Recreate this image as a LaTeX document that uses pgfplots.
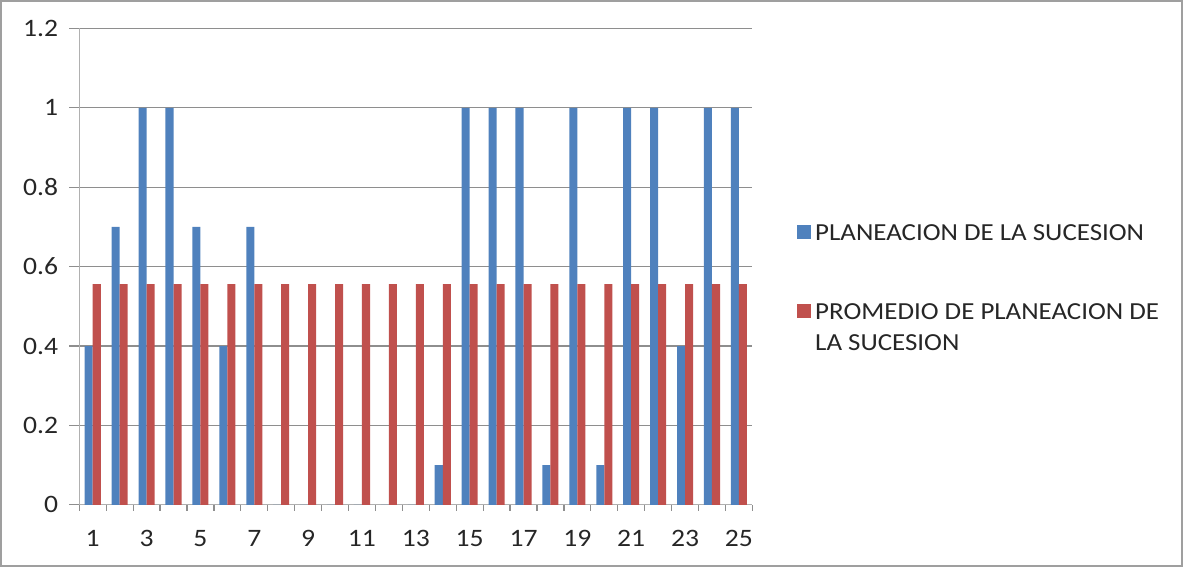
\documentclass[border=0pt]{standalone}
\usepackage{fontspec}
\setmainfont{Carlito}[FakeStretch=1.1]
\usepackage{pgfplots}
\usepackage{pgfplotstable}
\pgfplotsset{compat=1.18}
\definecolor{xlblue}{HTML}{4F81BD}
\definecolor{xlred}{HTML}{C0504D}
\definecolor{gridc}{HTML}{8E8E8E}
\definecolor{txt}{HTML}{262626}
\pgfplotstableread{
x plan prom
1 0.4 0.556
2 0.7 0.556
3 1.0 0.556
4 1.0 0.556
5 0.7 0.556
6 0.4 0.556
7 0.7 0.556
8 0.0 0.556
9 0.0 0.556
10 0.0 0.556
11 0.0 0.556
12 0.0 0.556
13 0.0 0.556
14 0.1 0.556
15 1.0 0.556
16 1.0 0.556
17 1.0 0.556
18 0.1 0.556
19 1.0 0.556
20 0.1 0.556
21 1.0 0.556
22 1.0 0.556
23 0.4 0.556
24 1.0 0.556
25 1.0 0.556
}\datatable
\begin{document}
\begin{tikzpicture}
\begin{axis}[
  scale only axis, width=335.5pt, height=237.5pt,
  xmin=0.5, xmax=25.5, ymin=0, ymax=1.2,
  clip=false,
  ybar=0pt, bar width=4pt,
  axis x line*=bottom, axis y line*=left,
  axis line style={gridc!70, -},
  xtick={1,3,...,25},
  minor xtick={0.5,1.5,...,25.5},
  ytick={0,0.2,0.4,0.6,0.8,1,1.2},
  yticklabels={0,0.2,0.4,0.6,0.8,1,1.2},
  tick align=outside,
  major tick length=5pt, minor tick length=3pt,
  every major x tick/.append style={draw=none},
  tick style={gridc, line width=0.6pt},
  ymajorgrids, grid style={gridc, line width=0.6pt},
  /pgf/number format/assume math mode=true,
  ticklabel style={font=\fontsize{12.5}{15}\selectfont, text=txt},
  yticklabel style={xshift=-2pt},
  xticklabel style={yshift=-4pt},
  legend style={draw=none, fill=none, at={(1.057,0.606)}, anchor=north west,
    font=\fontsize{12.2}{15.5}\selectfont, text=txt,
    cells={anchor=base west, align=left}, row sep=26pt},
]
\addplot[fill=xlblue, draw=none,
  legend image code/.code={\fill[xlblue] (0pt,0.5pt) rectangle (7pt,7.5pt);}]
  table[x=x, y=plan] {\datatable};
\addplot[fill=xlred, draw=none,
  legend image code/.code={\fill[xlred] (0pt,16pt) rectangle (7pt,23pt);}]
  table[x=x, y=prom] {\datatable};
\legend{PLANEACION DE LA SUCESION, {PROMEDIO DE PLANEACION DE\\LA SUCESION}}
\draw[gray!75, line width=1.2pt] (rel axis cs:-0.116,-0.128) rectangle (rel axis cs:1.638,1.057);
\end{axis}
\end{tikzpicture}
\end{document}
